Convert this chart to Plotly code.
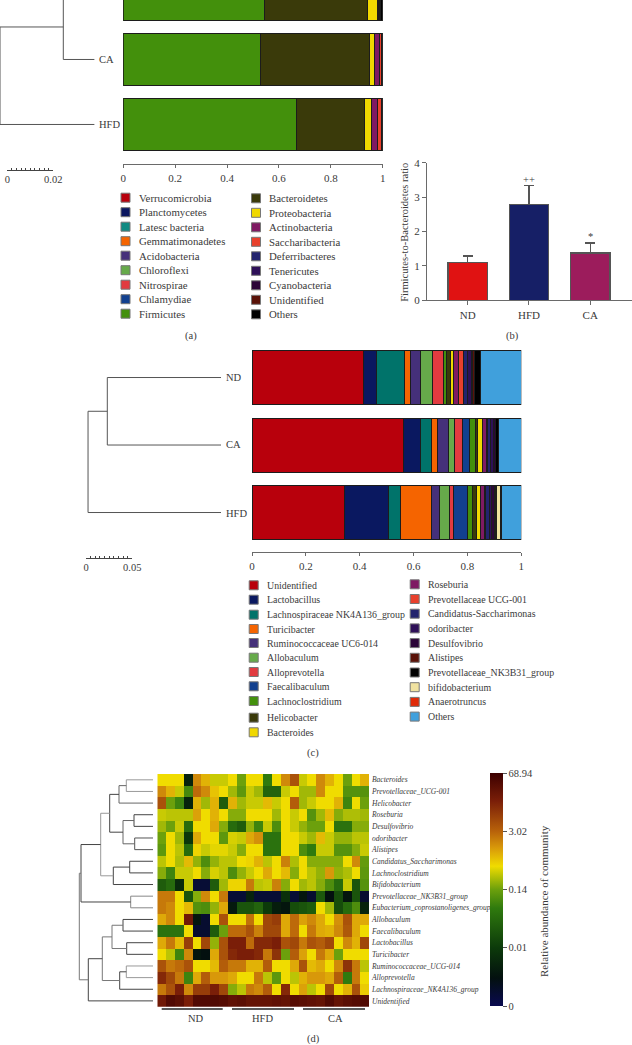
import plotly.graph_objects as go

W, H = 632, 1045
FONT = "Liberation Serif"
TEXT = "#3a3a3a"
AXIS = "#6a6a6a"
EDGE = "#1c1c1c"

# (a) phylum level, order of the stack = order of the legend
phyla = ["Verrucomicrobia", "Planctomycetes", "Latesc bacteria", "Gemmatimonadetes", "Acidobacteria",
         "Chloroflexi", "Nitrospirae", "Chlamydiae", "Firmicutes",
         "Bacteroidetes", "Proteobacteria", "Actinobacteria", "Saccharibacteria", "Deferribacteres",
         "Tenericutes", "Cyanobacteria", "Unidentified", "Others"]
phyla_colors = ["#b8000c", "#0b1760", "#0f8a82", "#f56400", "#45307a", "#66aa4a", "#e23b40", "#12408f", "#43900c",
                "#3a3a0a", "#f0d800", "#7f1a63", "#e8402c", "#23246e", "#2e1058", "#2c0538", "#5a1208", "#000000"]
phyla_nd = [0, 0, 0, 0, 0, 0, 0, 0, .544, .398, .037, .002, .001, .001, .003, .005, .002, .007]
phyla_ca = [0, 0, 0, 0, 0, 0, 0, 0, .530, .421, .018, .017, .009, 0, 0, 0, 0, .005]
phyla_hfd = [0, 0, 0, 0, 0, 0, 0, 0, .667, .263, .026, .025, .013, 0, 0, 0, 0, .006]

# (b) ratio bars
ratio_groups = ["ND", "HFD", "CA"]
ratio_values = [1.10, 2.78, 1.375]
ratio_errors = [0.19, 0.55, 0.295]
ratio_colors = ["#e01212", "#161f66", "#9c1c5c"]
ratio_marks = ["", "++", "*"]

# (c) genus level
genera = ["Unidentified", "Lactobacillus", "Lachnospiraceae NK4A136_group", "Turicibacter",
          "Ruminococcaceae UC6-014", "Allobaculum", "Alloprevotella", "Faecalibaculum", "Lachnoclostridium",
          "Helicobacter", "Bacteroides", "Roseburia", "Prevotellaceae UCG-001", "Candidatus-Saccharimonas",
          "odoribacter", "Desulfovibrio", "Alistipes", "Prevotellaceae_NK3B31_group", "bifidobacterium",
          "Anaerotruncus", "Others"]
genera_colors = ["#b8000c", "#0a1860", "#00736a", "#f56400", "#45307a", "#66aa4a", "#e23b40", "#12408f", "#43900c",
                 "#3a3a0a", "#f0d800", "#7f1a63", "#e8402c", "#23246e", "#2e1058", "#2c0538", "#5a1208", "#000000",
                 "#f0e2a0", "#e02a08", "#40a0dc"]
genera_nd = [.413, .050, .103, .021, .037, .046, .041, .001, .011, .015, .012, .017, .018, .017, .012, .006, .007,
             .022, 0, .001, .150]
genera_ca = [.562, .064, .041, .021, .041, .022, .030, .027, .021, .010, .018, .012, .005, .013, .009, .008, .002,
             .009, 0, 0, .085]
genera_hfd = [.345, .160, .045, .115, .033, .035, .015, .053, .016, .018, .015, .014, .002, .015, .010, .008, .007,
              .003, .012, .007, .072]

# trees beside the bars: (child, child, height), leaves are 0=HFD 1=CA 2=ND
tree_a = [(2, 1, .0135), (3, 0, .0410)]
tree_c = [(2, 1, .1228), (3, 0, .1436)]

# (d) heat map, values are positions on the colour bar (0-100) because its scale is not linear
heat_taxa = ["Bacteroides", "Prevotellaceae_UCG-001", "Helicobacter", "Roseburia", "Desulfovibrio", "odoribacter",
             "Alistipes", "Candidatus_Saccharimonas", "Lachnoclostridium", "Bifidobacterium",
             "Prevotellaceae_NK3B31_group", "Eubacterium_coprostanoligenes_group", "Allobaculum", "Faecalibaculum",
             "Lactobacillus", "Turicibacter", "Ruminococcaceae_UCG-014", "Alloprevotella",
             "Lachnospiraceae_NK4A136_group", "Unidentified"]
heat_z = [
    [60, 60, 60, 18, 70, 65, 57, 57, 60, 50, 60, 60, 42, 60, 70, 78, 57, 60, 70, 65, 60, 50, 60, 65],
    [70, 65, 57, 45, 74, 70, 63, 60, 54, 48, 57, 54, 36, 36, 57, 60, 54, 54, 70, 60, 60, 47, 47, 47],
    [78, 50, 44, 18, 65, 54, 65, 34, 65, 54, 57, 57, 64, 57, 60, 76, 54, 57, 60, 60, 65, 44, 60, 50],
    [57, 56, 56, 56, 67, 60, 65, 60, 52, 52, 60, 60, 60, 54, 60, 57, 60, 47, 54, 64, 52, 55, 55, 54],
    [54, 50, 57, 38, 60, 60, 66, 52, 38, 34, 53, 44, 57, 46, 60, 57, 53, 50, 50, 60, 40, 40, 52, 52],
    [50, 60, 54, 24, 66, 60, 60, 48, 58, 57, 66, 69, 40, 40, 60, 60, 57, 54, 64, 57, 53, 53, 56, 56],
    [48, 60, 56, 38, 61, 57, 59, 59, 57, 52, 60, 60, 40, 40, 60, 60, 46, 42, 57, 57, 47, 47, 52, 57],
    [56, 60, 55, 64, 53, 46, 53, 56, 56, 60, 61, 65, 56, 60, 71, 55, 60, 52, 52, 52, 52, 60, 70, 49],
    [52, 44, 57, 57, 60, 52, 58, 56, 46, 53, 57, 60, 66, 60, 64, 52, 60, 56, 53, 68, 53, 55, 60, 48],
    [34, 38, 20, 57, 5, 5, 34, 54, 61, 61, 72, 56, 57, 71, 52, 60, 54, 56, 52, 46, 38, 57, 32, 47],
    [72, 72, 60, 32, 52, 70, 60, 72, 5, 5, 18, 5, 5, 5, 22, 5, 14, 6, 33, 12, 30, 14, 32, 6],
    [72, 70, 60, 64, 47, 46, 53, 66, 15, 32, 32, 36, 25, 16, 14, 30, 32, 34, 60, 54, 30, 38, 46, 18],
    [66, 70, 60, 90, 14, 6, 60, 78, 60, 60, 73, 60, 80, 82, 66, 74, 67, 70, 66, 60, 69, 78, 66, 66],
    [40, 40, 40, 60, 6, 6, 34, 50, 74, 74, 78, 71, 80, 80, 66, 74, 60, 72, 66, 65, 70, 77, 66, 60],
    [66, 72, 64, 82, 60, 80, 53, 78, 88, 88, 74, 86, 86, 88, 78, 80, 72, 78, 76, 80, 60, 70, 65, 80],
    [60, 56, 44, 70, 14, 12, 66, 78, 86, 88, 88, 86, 72, 84, 50, 76, 67, 60, 72, 66, 50, 60, 60, 60],
    [78, 72, 74, 78, 60, 60, 64, 76, 72, 72, 65, 65, 76, 60, 60, 66, 78, 64, 66, 60, 70, 84, 72, 56],
    [86, 80, 72, 44, 66, 76, 68, 68, 66, 60, 60, 72, 56, 48, 60, 56, 65, 68, 68, 66, 76, 42, 72, 60],
    [72, 78, 88, 70, 82, 82, 88, 80, 52, 56, 72, 70, 76, 60, 86, 60, 67, 56, 60, 80, 60, 65, 78, 62],
    [90, 96, 94, 88, 96, 96, 96, 95, 93, 94, 92, 92, 92, 93, 92, 95, 94, 93, 92, 96, 92, 94, 95, 96],
]
heat_scale = [[0, "#0a0a50"], [.12, "#03100f"], [.25, "#0c3a0a"], [.42, "#2f7a0e"], [.5, "#6ca00c"],
              [.6, "#f0dc00"], [.68, "#d8980a"], [.75, "#b8620a"], [.88, "#7a1e08"], [1, "#3c0000"]]
heat_ticks = [0, 25, 50, 75, 100]
heat_ticktext = ["0", "0.01", "0.14", "3.02", "68.94"]
# (child, child, height, tone), children >= 20 point at earlier merges
tree_d = [(0, 1, 26.7, "#999999"), (20, 2, 34, "#666666"), (3, 4, 19, "#444444"), (5, 6, 18.3, "#555555"),
          (22, 23, 30, "#666666"), (21, 24, 43.3, "#444444"), (7, 8, 23.3, "#444444"), (26, 9, 39.7, "#444444"),
          (25, 27, 52.3, "#999999"), (10, 11, 22.3, "#888888"), (28, 29, 72, "#444444"), (12, 13, 30, "#444444"),
          (14, 15, 26.3, "#444444"), (31, 32, 41, "#777777"), (16, 17, 26.7, "#999999"), (34, 18, 33.3, "#444444"),
          (33, 35, 50.7, "#777777"), (36, 19, 64.7, "#444444"), (30, 37, 73.7, "#777777")]


def dom_x(left, right):
    return [left / W, right / W]


def dom_y(top, bottom):
    return [1 - bottom / H, 1 - top / H]


def note(x, y, text, size=10.5, anchor="left", angle=0):
    fig.add_annotation(x=x / W, y=1 - y / H, xref="paper", yref="paper", text=text, showarrow=False,
                       xanchor=anchor, yanchor="middle", textangle=angle, align="left",
                       font=dict(family=FONT, size=size, color=TEXT))


def add_tree(merges, leaf_pos, xaxis, yaxis, width=1.0):
    # walk the merges in order, every new node sits halfway between its children
    pos = list(leaf_pos)
    height = [0] * len(leaf_pos)
    for m in merges:
        a, b, h = m[0], m[1], m[2]
        tone = m[3] if len(m) > 3 else "#555555"
        fig.add_trace(go.Scatter(x=[height[a], h, h, height[b]], y=[pos[a], pos[a], pos[b], pos[b]],
                                 mode="lines", line=dict(color=tone, width=width), xaxis=xaxis, yaxis=yaxis,
                                 hoverinfo="skip", showlegend=False))
        pos.append((pos[a] + pos[b]) / 2)
        height.append(h)


def add_legend(names, colors, xs, ys, size):
    for x, y, name, color in zip(xs, ys, names, colors):
        fig.add_shape(type="rect", xref="paper", yref="paper", x0=(x - 4.5) / W, x1=(x + 4.5) / W,
                      y0=1 - (y + 4.5) / H, y1=1 - (y - 4.5) / H, fillcolor=color,
                      line=dict(color="#777777", width=1))
        note(x + 11.3, y, name, size)


def scale_bar(axis_id, y_id, left, right, y, full, label):
    # tree scale: its own little axis, ticks pointing up
    fig.add_trace(go.Scatter(x=[0, full], y=[0, 0], mode="none", xaxis=axis_id, yaxis=y_id,
                             hoverinfo="skip", showlegend=False))
    fig.update_layout({
        "xaxis" + axis_id[1:]: dict(domain=dom_x(left, right), range=[0, full], anchor=y_id, showgrid=False,
                                    zeroline=False, showline=True, linecolor="#444444", linewidth=1,
                                    ticks="inside", ticklen=4, tickwidth=1, tickcolor="#444444",
                                    tickvals=[0, full / 2, full], ticktext=["0", "", label],
                                    ticklabelstandoff=-1,
                                    minor=dict(tickvals=[full * i / 10 for i in range(11)], ticks="inside",
                                               ticklen=2, tickwidth=1, tickcolor="#444444"),
                                    tickfont=dict(family=FONT, size=10.5, color=TEXT)),
        "yaxis" + y_id[1:]: dict(domain=dom_y(y - 6, y), range=[0, 1], anchor=axis_id, visible=False),
    })


def bar_axis_x(left, right):
    return dict(domain=dom_x(left, right), range=[0, 1], showgrid=False, zeroline=False, showline=True,
                linecolor=AXIS, linewidth=1, ticks="outside", ticklen=3, tickwidth=1, tickcolor=AXIS,
                tickvals=[0, .2, .4, .6, .8, 1], ticktext=["0", "0.2", "0.4", "0.6", "0.8", "1"],
                ticklabelstandoff=1, tickfont=dict(family=FONT, size=11, color=TEXT))


fig = go.Figure()

# (a) stacked bars and tree, the ND bar runs off the top of the page as in the source figure
for i, name in enumerate(phyla):
    fig.add_trace(go.Bar(y=[0, 1, 2], x=[phyla_hfd[i], phyla_ca[i], phyla_nd[i]], orientation="h", width=.81,
                         marker=dict(color=phyla_colors[i], line=dict(color=EDGE, width=1)), cliponaxis=False,
                         name=name, showlegend=False, xaxis="x", yaxis="y"))
add_tree(tree_a, [0, 1, 2], "x2", "y")
scale_bar("x3", "y3", 7.3, 53.3, 170, 0.02, "0.02")

# (b) ratio
fig.add_trace(go.Bar(x=[0, 1, 2], y=ratio_values, width=.645,
                     marker=dict(color=ratio_colors, line=dict(color="#555555", width=1.2)),
                     error_y=dict(type="data", array=ratio_errors, arrayminus=[0, 0, 0], symmetric=False,
                                  color="#555555", thickness=1.3, width=5),
                     showlegend=False, xaxis="x4", yaxis="y4"))

# (c) stacked bars and tree
for i, name in enumerate(genera):
    fig.add_trace(go.Bar(y=[0, 1, 2], x=[genera_hfd[i], genera_ca[i], genera_nd[i]], orientation="h", width=.8,
                         marker=dict(color=genera_colors[i], line=dict(color=EDGE, width=1)), cliponaxis=False,
                         name=name, showlegend=False, xaxis="x5", yaxis="y5"))
add_tree(tree_c, [0, 1, 2], "x6", "y5")
scale_bar("x7", "y7", 86, 132.3, 558.3, 0.05, "0.05")

# (d) heat map and tree
fig.add_trace(go.Heatmap(z=heat_z, colorscale=heat_scale, zmin=0, zmax=100, xaxis="x8", yaxis="y8", xgap=0, ygap=0,
                         colorbar=dict(x=490 / W, xanchor="left", y=1 - 1006 / H, yanchor="bottom",
                                       len=233.3 / H, lenmode="fraction", thickness=13.3, outlinewidth=0,
                                       tickvals=heat_ticks, ticktext=heat_ticktext, ticks="outside", ticklen=4,
                                       tickcolor="#555555", xpad=0, ypad=0,
                                       tickfont=dict(family=FONT, size=10.5, color=TEXT))))
add_tree(tree_d, list(range(20)), "x9", "y8")

fig.update_layout(
    width=W, height=H, margin=dict(l=0, r=0, t=0, b=0, autoexpand=False), autosize=False, barmode="stack",
    paper_bgcolor="white", plot_bgcolor="rgba(0,0,0,0)", font=dict(family=FONT, color=TEXT),
    xaxis=bar_axis_x(123.3, 382.7) | dict(anchor="y"),
    yaxis=dict(domain=dom_y(0, 164), range=[-.608, 1.915], visible=False, anchor="x"),
    xaxis2=dict(domain=dom_x(0, 96), range=[.0410, -.0007], visible=False, anchor="y"),
    xaxis4=dict(domain=dom_x(427, 632), range=[-.664, 2.682], anchor="y4", showgrid=False, zeroline=False,
                showline=True, linecolor=AXIS, linewidth=1.3, ticks="outside", ticklen=4, tickcolor=AXIS,
                tickvals=[0, 1, 2], ticktext=ratio_groups, tickfont=dict(family=FONT, size=11, color=TEXT)),
    yaxis4=dict(domain=dom_y(162.7, 300.3), range=[0, 4], anchor="x4", showgrid=False, zeroline=False,
                showline=True, linecolor=AXIS, linewidth=1.3, ticks="outside", ticklen=4, tickcolor=AXIS,
                tickvals=[0, 1, 2, 3, 4], tickfont=dict(family=FONT, size=11, color=TEXT)),
    xaxis5=bar_axis_x(252, 521.3) | dict(anchor="y5"),
    yaxis5=dict(domain=dom_y(340, 552), range=[-.585, 2.556], visible=False, anchor="x5"),
    xaxis6=dict(domain=dom_x(86, 223), range=[.1458, -.00216], visible=False, anchor="y5"),
    xaxis8=dict(domain=dom_x(157.3, 369), range=[-.5, 23.5], visible=False, anchor="y8"),
    yaxis8=dict(domain=dom_y(774, 1006.7), range=[19.5, -.5], anchor="x8", side="right", showgrid=False,
                zeroline=False, ticks="", tickvals=list(range(20)),
                ticktext=["<i>" + t + "</i>" for t in heat_taxa], ticklabelstandoff=2,
                tickfont=dict(family=FONT, size=7.5, color=TEXT)),
    xaxis9=dict(domain=dom_x(60, 153), range=[93, 0], visible=False, anchor="y8"),
)

# texts and keys in page pixels
for label, y in zip(["HFD", "CA", "ND"], [125, 59.5, -5]):
    note(97.3, y, label, 10.5)
for label, y in zip(["HFD", "CA", "ND"], [513, 444, 378]):
    note(224, y, label, 10.5)

add_legend(phyla[:9], phyla_colors[:9], [125.5] * 9, [197.7 + 14.5 * i for i in range(9)], 10.8)
add_legend(phyla[9:], phyla_colors[9:], [256] * 9, [198.3 + 14.5 * i for i in range(9)], 10.8)
add_legend(genera[:11], genera_colors[:11], [253.7] * 11,
           [585.3, 599.7, 614.7, 629, 643, 657.7, 672, 686.3, 701, 717.7, 732.3], 9.9)
add_legend(genera[11:], genera_colors[11:], [414.7] * 10, [584.3 + 14.7 * i for i in range(10)], 9.9)

for i, mark in enumerate(ratio_marks):
    if mark:
        note(467.7 + 61.25 * i, 300.3 - (ratio_values[i] + ratio_errors[i]) * 34.4 - 6, mark, 10.5, "center")
note(404.3, 232.5, "Firmicutes-to-Bacteroidetes ratio", 10.5, "center", -90)

note(190.7, 335.7, "(a)", 10.5, "center")
note(512.7, 335.7, "(b)", 10.5, "center")
note(313, 752.7, "(c)", 10.5, "center")
note(313, 1039, "(d)", 10.5, "center")

# group brackets under the heat map
for name, left, right, mid in zip(["ND", "HFD", "CA"], [161.7, 232, 303], [222.7, 294, 365], [195.7, 262.7, 335.7]):
    fig.add_shape(type="line", xref="paper", yref="paper", x0=left / W, x1=right / W, y0=1 - 1009 / H, y1=1 - 1009 / H,
                  line=dict(color="#222222", width=1.4))
    note(mid, 1018, name, 10.5, "center")
note(544, 901, "Relative abundance of community", 11, "center", -90)

fig.write_html("out.html", config=dict(displayModeBar=False), post_script="document.body.style.margin='0';")
